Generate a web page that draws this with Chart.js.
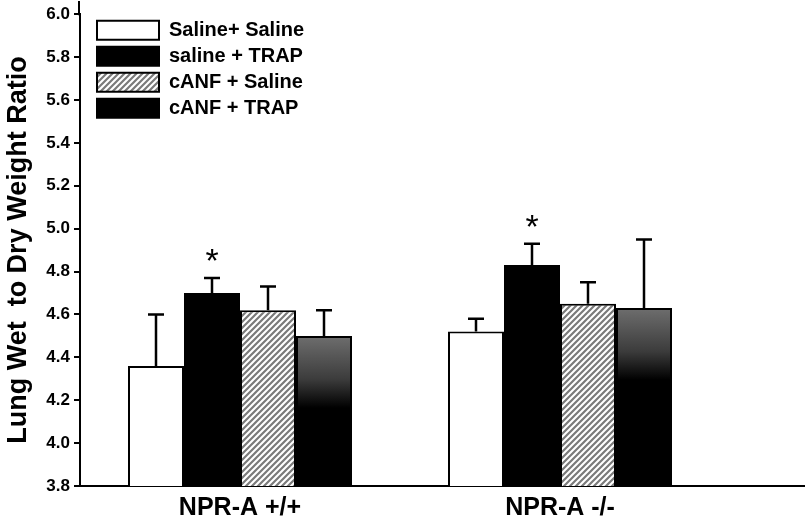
<!DOCTYPE html>
<html>
<head>
<meta charset="utf-8">
<script src="https://cdn.jsdelivr.net/npm/chart.js@4"></script>
<style>
  html, body { margin: 0; padding: 0; background: #fff; }
  #wrap { width: 809px; height: 529px; }
</style>
</head>
<body>
<div id="wrap"><canvas id="barChart"></canvas></div>
<script>
// 그룹 (x축)
var groups = ['NPR-A +/+', 'NPR-A -/-'];
var seriesNames = ['Saline+ Saline', 'saline + TRAP', 'cANF + Saline', 'cANF + TRAP'];

// 평균값
var salineSaline = [4.36, 4.52];
var salineTrap = [4.70, 4.83];
var canfSaline = [4.62, 4.65];
var canfTrap = [4.50, 4.63];

// 오차 (SEM)
var salineSalineErr = [0.24, 0.06];
var salineTrapErr = [0.07, 0.10];
var canfSalineErr = [0.11, 0.10];
var canfTrapErr = [0.12, 0.32];

// 유의 표시 (*)
var salineTrapStar = [true, true];

var yTicks = [3.8, 4.0, 4.2, 4.4, 4.6, 4.8, 5.0, 5.2, 5.4, 5.6, 5.8, 6.0];

var FONT = 'Arial, "Liberation Sans", sans-serif';

// 빗금 패턴
function makeHatch() {
  var c = document.createElement('canvas');
  c.width = 6; c.height = 6;
  var g = c.getContext('2d');
  g.fillStyle = '#fff';
  g.fillRect(0, 0, 6, 6);
  g.strokeStyle = '#7a7a7a';
  g.lineWidth = 2.2;
  g.beginPath();
  g.moveTo(-1, 7); g.lineTo(7, -1);
  g.moveTo(-4, 4); g.lineTo(4, -4);
  g.moveTo(2, 10); g.lineTo(10, 2);
  g.stroke();
  return g.createPattern(c, 'repeat');
}
var hatch = makeHatch();

// 위쪽이 회색인 그라데이션 막대
function gradientFill(context) {
  if (context.type !== 'data') return '#000';
  var chart = context.chart;
  var y = chart.scales.y;
  if (!y) return '#000';
  var top = y.getPixelForValue(context.raw);
  if (!isFinite(top)) return '#000';
  var grad = chart.ctx.createLinearGradient(0, top, 0, top + 72);
  grad.addColorStop(0, '#6e6e6e');
  grad.addColorStop(0.6, '#3c3c3c');
  grad.addColorStop(1, '#000');
  return grad;
}

var errorSets = [salineSalineErr, salineTrapErr, canfSalineErr, canfTrapErr];

// 오차 막대 + 별표
var errorBars = {
  id: 'errorBars',
  afterDatasetsDraw: function (chart) {
    var ctx = chart.ctx;
    var y = chart.scales.y;
    ctx.save();
    ctx.strokeStyle = '#000';
    ctx.lineWidth = 2.5;
    chart.data.datasets.forEach(function (ds, i) {
      var meta = chart.getDatasetMeta(i);
      meta.data.forEach(function (bar, j) {
        var top = y.getPixelForValue(ds.data[j] + errorSets[i][j]);
        ctx.beginPath();
        ctx.moveTo(bar.x, bar.y);
        ctx.lineTo(bar.x, top);
        ctx.moveTo(bar.x - 8, top);
        ctx.lineTo(bar.x + 8, top);
        ctx.stroke();
        if (i === 1 && salineTrapStar[j]) {
          ctx.fillStyle = '#000';
          ctx.font = '34px ' + FONT;
          ctx.textAlign = 'center';
          ctx.textBaseline = 'alphabetic';
          ctx.fillText('*', bar.x, top - 6);
        }
      });
    });
    ctx.restore();
  }
};

// 축 선 연장 (x축 오른쪽, y축 위쪽)
var axisExtend = {
  id: 'axisExtend',
  afterDraw: function (chart) {
    var ctx = chart.ctx;
    var a = chart.chartArea;
    ctx.save();
    ctx.strokeStyle = '#000';
    ctx.lineWidth = 2;
    ctx.beginPath();
    ctx.moveTo(a.right - 1, a.bottom);
    ctx.lineTo(chart.width - 4, a.bottom);
    ctx.moveTo(a.left - 1, a.top + 1);
    ctx.lineTo(a.left - 1, 1);
    ctx.stroke();
    ctx.restore();
  }
};

// 범례를 차트 안 왼쪽 위로
var legendPlace = {
  id: 'legendPlace',
  afterLayout: function (chart) {
    var l = chart.legend;
    var a = chart.chartArea;
    l.left = a.left + 11;
    l.top = a.top;
    l.right = l.left + l.width;
    l.bottom = l.top + l.height;
  }
};

var ctxBar = document.getElementById('barChart').getContext('2d');

var chartBar = new Chart(ctxBar, {
  type: 'bar',
  data: {
    labels: groups,
    datasets: [
      {
        label: seriesNames[0],
        data: salineSaline,
        backgroundColor: '#fff',
        borderColor: '#000',
        borderWidth: 2,
      },
      {
        label: seriesNames[1],
        data: salineTrap,
        backgroundColor: '#000',
        borderColor: '#000',
        borderWidth: 2,
      },
      {
        label: seriesNames[2],
        data: canfSaline,
        backgroundColor: hatch,
        borderColor: '#000',
        borderWidth: 2,
      },
      {
        label: seriesNames[3],
        data: canfTrap,
        backgroundColor: gradientFill,
        borderColor: '#000',
        borderWidth: 2,
      },
    ],
  },
  options: {
    responsive: true,
    maintainAspectRatio: false,
    animation: false,
    categoryPercentage: 0.7,
    barPercentage: 1.0,
    layout: {
      padding: { top: 11, right: 89, left: 0, bottom: 0 },
    },
    plugins: {
      legend: {
        position: 'chartArea',
        align: 'start',
        labels: {
          boxWidth: 62,
          boxHeight: 19,
          padding: 6,
          color: '#000',
          font: { family: FONT, size: 20, weight: 'bold' },
          generateLabels: function (chart) {
            var items = Chart.defaults.plugins.legend.labels.generateLabels(chart);
            items.forEach(function (it) {
              if (it.datasetIndex === 3) it.fillStyle = '#000';
            });
            return items;
          },
        },
      },
      tooltip: { enabled: false },
    },
    scales: {
      x: {
        grid: { display: true, drawOnChartArea: false, drawTicks: false },
        border: { display: true, color: '#000', width: 2 },
        ticks: {
          color: '#000',
          padding: 7,
          font: { family: FONT, size: 25, weight: 'bold' },
        },
        afterFit: function (s) { s.height = 43; },
      },
      y: {
        min: 3.8,
        max: 6.0,
        afterBuildTicks: function (s) {
          s.ticks = yTicks.map(function (v) { return { value: v }; });
        },
        grid: {
          display: true,
          drawOnChartArea: false,
          drawTicks: true,
          tickLength: 6,
          color: '#000',
          lineWidth: 2,
        },
        border: { display: true, color: '#000', width: 2 },
        ticks: {
          color: '#000',
          padding: 4,
          font: { family: FONT, size: 17, weight: 'bold' },
          callback: function (v) { return Number(v).toFixed(1); },
        },
        title: {
          display: true,
          text: 'Lung Wet  to Dry Weight Ratio',
          color: '#000',
          padding: { top: 2, bottom: 2 },
          font: { family: FONT, size: 27, weight: 'bold' },
        },
        afterFit: function (s) { s.width = 80; },
      },
    },
  },
  plugins: [errorBars, axisExtend, legendPlace],
});
</script>
</body>
</html>
